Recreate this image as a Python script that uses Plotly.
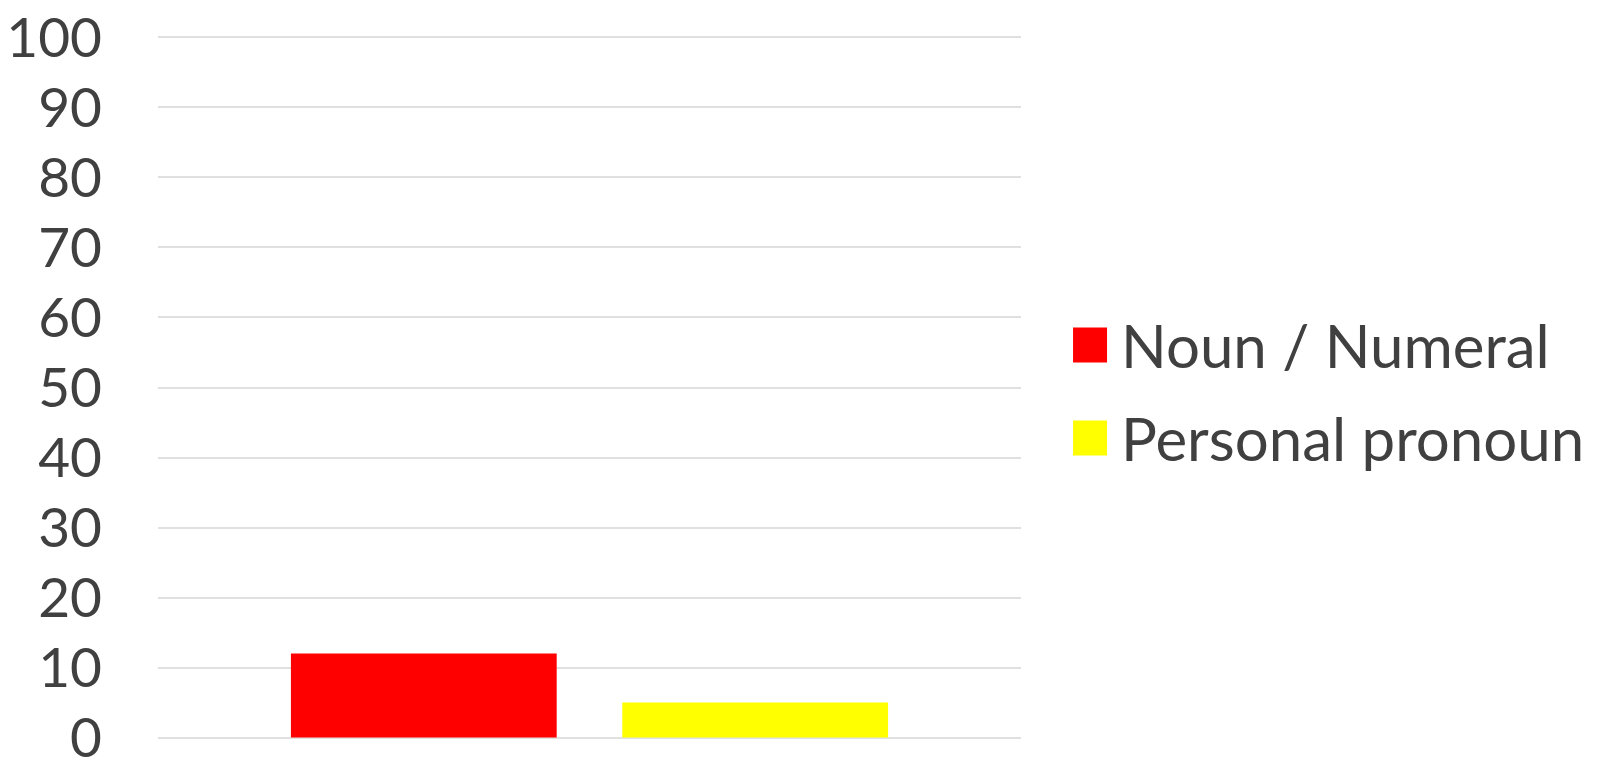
import plotly.graph_objects as go

categories = [""]
series_names = ["Noun / Numeral", "Personal pronoun"]
series_values = [[12], [5]]
series_colors = ["#ff0000", "#ffff00"]
tick_vals = [0, 10, 20, 30, 40, 50, 60, 70, 80, 90, 100]

FONT = "Lato, 'Open Sans', sans-serif"
TEXT_COLOR = "#404040"

fig = go.Figure()
for name, vals, col in zip(series_names, series_values, series_colors):
    fig.add_trace(go.Bar(x=categories, y=vals, name=name, marker=dict(color=col, line=dict(width=0)),
                         showlegend=False))

# manual legend (large swatches)
legend_y = [0.5605, 0.428]
for name, col, yy in zip(series_names, series_colors, legend_y):
    fig.add_shape(type="rect", xref="paper", yref="paper",
                  x0=1.0603, x1=1.0997, y0=yy - 0.0249, y1=yy + 0.0249,
                  fillcolor=col, line=dict(width=0))
    fig.add_annotation(xref="paper", yref="paper", x=1.1135, y=yy, text=name,
                       showarrow=False, xanchor="left", yanchor="middle",
                       font=dict(family=FONT, size=60, color=TEXT_COLOR))

fig.update_layout(
    width=1598, height=760,
    margin=dict(l=150, r=585, t=28, b=29),
    paper_bgcolor="white", plot_bgcolor="white",
    barmode="group", bargap=0.232, bargroupgap=0.198,
    showlegend=False,
    font=dict(family=FONT, color=TEXT_COLOR),
)
fig.update_xaxes(showticklabels=False, showgrid=False, zeroline=False, showline=False, automargin=False)
fig.update_yaxes(range=[-0.2, 100.2], tickvals=tick_vals, showgrid=True, gridcolor="#e0e0e0", gridwidth=2,
                 zeroline=False, showline=False, ticks="", automargin=False,
                 tickfont=dict(family=FONT, size=55, color=TEXT_COLOR),
                 ticklabelstandoff=55, ticklabeloverflow="allow")

fig.write_html("out.html")
